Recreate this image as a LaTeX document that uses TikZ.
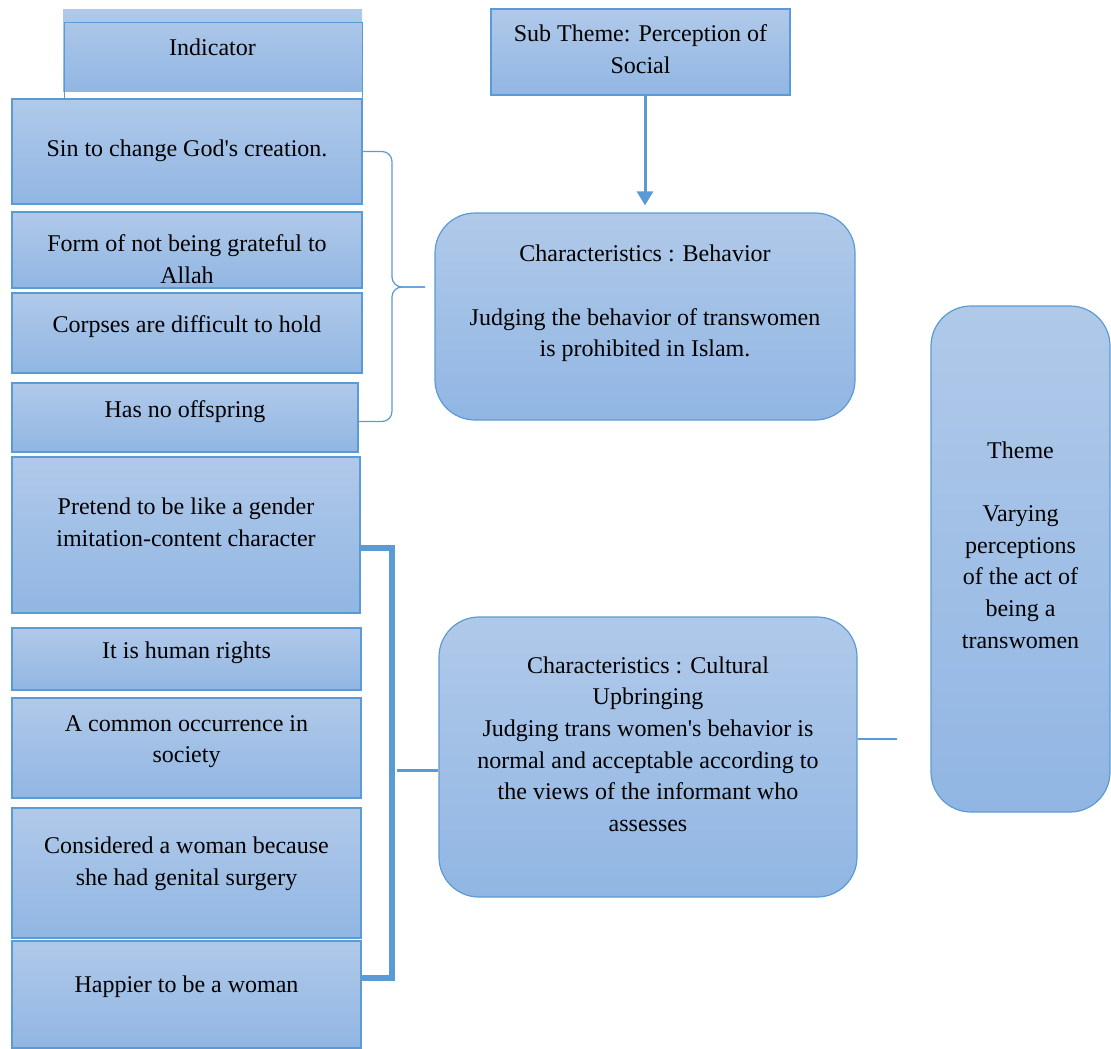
\documentclass[tikz,border=0pt]{standalone}
\usepackage{fontspec}
\setmainfont{Liberation Serif}
\definecolor{bxtop}{RGB}{176,201,233}
\definecolor{bxbot}{RGB}{145,182,227}
\definecolor{bxedge}{RGB}{91,155,213}
\usetikzlibrary{arrows.meta,positioning}

\begin{document}
\begin{tikzpicture}[x=0.5pt, y=-0.5pt,
  every node/.style={font=\fontsize{12}{15.8}\selectfont},
  bx/.style={draw=bxedge, line width=0.6pt, top color=bxtop, bottom color=bxbot, align=center, inner sep=2pt, minimum width=175pt},
  rbx/.style={bx, rounded corners=20pt},
  link/.style={bxedge, line width=1.5pt}]
\useasboundingbox (0,0) rectangle (1111,1048);
% Indicator column
\node[bx, draw=none, minimum width=149.5pt, minimum height=41pt, text depth=4pt] (indicator) at (212.5,51) {Indicator};
\draw[bxedge, line width=0.6pt] ([xshift=1pt,yshift=-6.5pt]indicator.north west) rectangle ([yshift=-8pt]indicator.south east);
\node[bx, minimum height=52.5pt, text depth=3.6pt] (sin) at (187,151.5) {Sin to change God\textquotesingle s creation.};
\node[bx, minimum height=38pt, text height=33pt, text depth=0pt] (grateful) at (187,250) {Form of not being grateful to\\Allah};
\node[bx, minimum height=40pt, text depth=8.6pt] (corpses) at (187,333) {Corpses are difficult to hold};
\node[bx, minimum width=173pt, minimum height=34.5pt, text depth=8.6pt] (offspring) at (185,417.5) {Has no offspring};
\node[bx, minimum width=174pt, minimum height=78pt, text depth=13pt] (pretend) at (186,535) {Pretend to be like a gender\\imitation-content character};
\node[bx, minimum width=174.5pt, minimum height=31pt, text depth=8.6pt] (rights) at (186.5,659) {It is human rights};
\node[bx, minimum width=174.5pt, minimum height=50pt, text depth=9.1pt] (common) at (186.5,748) {A common occurrence in\\society};
\node[bx, minimum width=174.5pt, minimum height=65pt, text depth=11.6pt] (surgery) at (186.5,873) {Considered a woman because\\she had genital surgery};
\node[bx, minimum width=174.5pt, minimum height=53.5pt, text depth=10.6pt] (happier) at (186.5,994.5) {Happier to be a woman};
% Sub theme and characteristics
\node[bx, minimum width=149.5pt, minimum height=43pt, text depth=3pt] (subtheme) at (640.5,52) {Sub Theme: Perception of\\Social};
\node[rbx, minimum width=210pt, minimum height=103.5pt, text depth=15.6pt] (behavior) at (645,316.5) {Characteristics : Behavior\\[15.8pt]Judging the behavior of transwomen\\is prohibited in Islam.};
\node[rbx, minimum width=209pt, minimum height=140pt, text depth=13pt] (cultural) at (648,757) {Characteristics : Cultural\\Upbringing\\Judging trans women\textquotesingle s behavior is\\normal and acceptable according to\\the views of the informant who\\assesses};
% Theme
\node[rbx, minimum width=89.5pt, minimum height=253pt, text depth=14pt] (theme) at (1020.5,559) {Theme\\[15.8pt]Varying\\perceptions\\of the act of\\being a\\transwomen};
% Connectors
\draw[link, -{Triangle[width=8pt,length=7pt]}, shorten >=3.5pt] (behavior.north |- subtheme.south) -- (behavior.north);
\coordinate (tip) at (425,287);
\draw[bxedge, line width=0.6pt, rounded corners=5pt] (sin.east) -| (392,287) -- (tip);
\draw[bxedge, line width=0.6pt, rounded corners=5pt] ([yshift=-2pt]offspring.east) -| (392,287) -- (tip);
\coordinate (bk) at (392,770);
\draw[bxedge, line width=3pt] ([yshift=-6.5pt]pretend.east) -| (bk) |- ([yshift=8.5pt]happier.east);
\draw[link] ([xshift=2.5pt]bk) -- (cultural.west |- bk);
\coordinate (loose) at (897,739);
\draw[bxedge, line width=1pt] (cultural.east |- loose) -- (loose);
\end{tikzpicture}
\end{document}
